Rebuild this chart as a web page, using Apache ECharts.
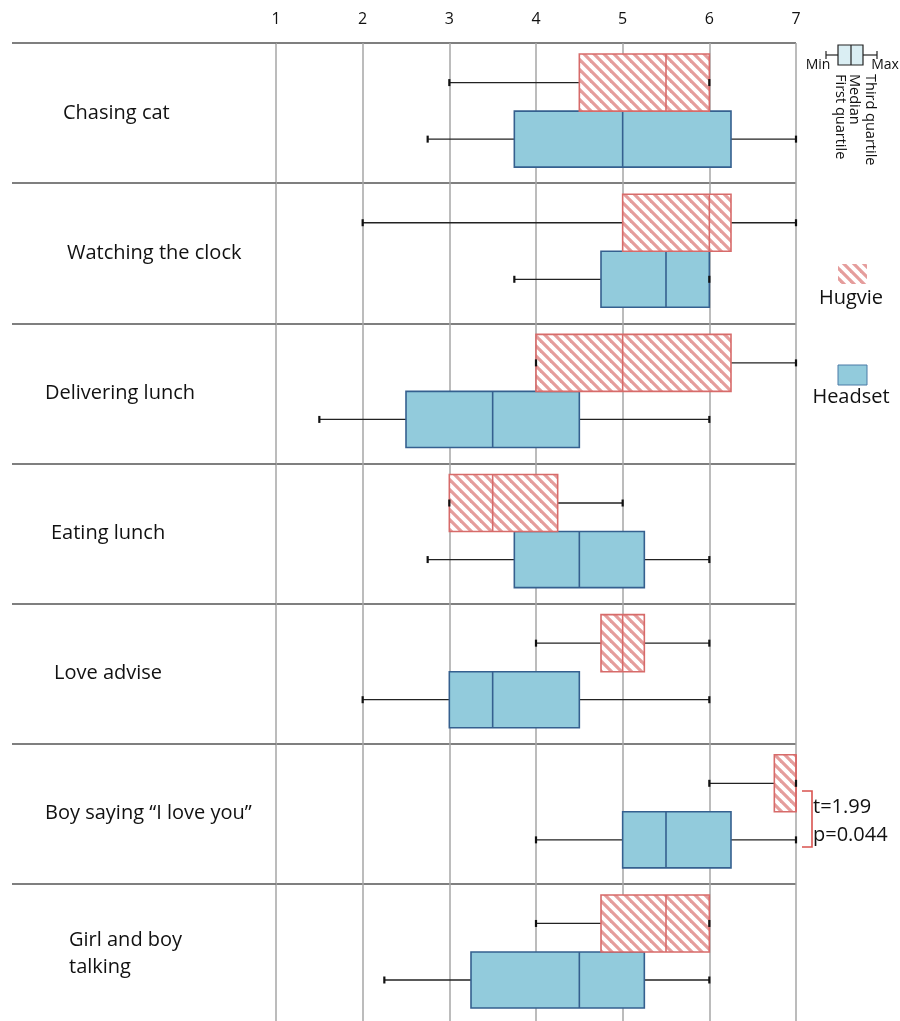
<!DOCTYPE html>
<html><head><meta charset="utf-8">
<script src="https://cdn.jsdelivr.net/npm/echarts@6/dist/echarts.min.js"></script>
<style>html,body{margin:0;padding:0;background:#fff;overflow:hidden}#c{width:900px;height:1040px}</style>
</head><body><div id="c"></div>
<script>
// ---- data ----
const categories = ['Chasing cat', 'Watching the clock', 'Delivering lunch', 'Eating lunch', 'Love advise', 'Boy saying \u201cI love you\u201d', 'Girl and boy\ntalking'];
const xTicks = [1, 2, 3, 4, 5, 6, 7];
// [min, Q1, median, Q3, max]
const hugvie = [
  [3, 4.5, 5.5, 6, 6],
  [2, 5, 6, 6.25, 7],
  [4, 4, 5, 6.25, 7],
  [3, 3, 3.5, 4.25, 5],
  [4, 4.75, 5, 5.25, 6],
  [6, 6.75, 7, 7, 7],
  [4, 4.75, 5.5, 6, 6]
];
const headset = [
  [2.75, 3.75, 5, 6.25, 7],
  [3.75, 4.75, 5.5, 6, 6],
  [1.5, 2.5, 3.5, 4.5, 6],
  [2.75, 3.75, 4.5, 5.25, 6],
  [2, 3, 3.5, 4.5, 6],
  [4, 5, 5.5, 6.25, 7],
  [2.25, 3.25, 4.5, 5.25, 6]
];
const seriesNames = ['Hugvie', 'Headset'];
const annotation = ['t=1.99', 'p=0.044'];
const keyLabels = ['Min', 'Max', 'First quartile', 'Median', 'Third quartile'];

// ---- styling ----
const FONT = 'Open Sans';
const pc = document.createElement('canvas');
pc.width = 10; pc.height = 10;
(function(){
  const g = pc.getContext('2d');
  g.fillStyle = '#fff'; g.fillRect(0,0,10,10);
  g.strokeStyle = '#e59d9c'; g.lineWidth = 3.2;
  [[-5,-5,15,15],[-5,5,5,15],[5,-5,15,5]].forEach(l=>{g.beginPath();g.moveTo(l[0],l[1]);g.lineTo(l[2],l[3]);g.stroke();});
})();
const hatch = {image: pc, repeat: 'repeat'};
const HUG_STROKE = '#d76b6a';
const HEAD_FILL = '#92cbdc';
const HEAD_STROKE = '#35608f';

function toRows(arr){ return arr.map((r,i)=>[i].concat(r)); }

function makeRender(fTop, fBot, fill, stroke){
  return function(params, api){
    const cat = api.value(0);
    const bw = api.size([0,1])[1];
    const pMin = api.coord([api.value(1), cat]);
    const pQ1 = api.coord([api.value(2), cat]);
    const pMed = api.coord([api.value(3), cat]);
    const pQ3 = api.coord([api.value(4), cat]);
    const pMax = api.coord([api.value(5), cat]);
    const yc = pMin[1];
    const top = yc + fTop*bw, bot = yc + fBot*bw;
    const wy = (top+bot)/2;
    const ws = {stroke:'#222', lineWidth:1.3};
    const cs = {stroke:'#111', lineWidth:2.2};
    return {type:'group', children:[
      {type:'line', shape:{x1:pMin[0], y1:wy, x2:pQ1[0], y2:wy}, style:ws},
      {type:'line', shape:{x1:pQ3[0], y1:wy, x2:pMax[0], y2:wy}, style:ws},
      {type:'rect', shape:{x:pQ1[0], y:top, width:pQ3[0]-pQ1[0], height:bot-top}, style:{fill:fill, stroke:stroke, lineWidth:1.6}},
      {type:'line', shape:{x1:pMed[0], y1:top, x2:pMed[0], y2:bot}, style:{stroke:stroke, lineWidth:1.6}},
      {type:'line', shape:{x1:pMin[0], y1:wy-3.5, x2:pMin[0], y2:wy+3.5}, style:cs},
      {type:'line', shape:{x1:pMax[0], y1:wy-3.5, x2:pMax[0], y2:wy+3.5}, style:cs}
    ]};
  };
}

const labelPad = [18, 22, 0, 6, 9, 0, 24];
const rich = {};
labelPad.forEach((p,i)=>{ rich['c'+i] = {padding:[0,0,0,p], fontSize:20, fontFamily:FONT, color:'#111', lineHeight:27}; });

const chart = echarts.init(document.getElementById('c'), null, {renderer:'canvas'});
const txt = (s, x, y, extra, rot) => ({type:'text', x:x, y:y, rotation:rot||0, style:Object.assign({text:s, fontFamily:FONT, fontSize:20, fill:'#111', textAlign:'center', textVerticalAlign:'middle'}, extra||{})});
const R = -Math.PI/2;

chart.setOption({
  animation:false,
  grid:{left:276, right:104, top:43, height:981},
  xAxis:{type:'value', position:'top', min:1, max:7, interval:1,
    axisLine:{show:false}, axisTick:{show:false},
    axisLabel:{fontFamily:FONT, fontSize:16, color:'#111', margin:16, formatter:v=>xTicks.indexOf(v)>=0?String(v):''},
    splitLine:{show:true, lineStyle:{color:'#a6a6a6', width:1.5}}},
  yAxis:{type:'category', data:categories, inverse:true,
    axisLine:{show:false},
    axisTick:{show:true, length:264, lineStyle:{color:'#7f7f7f', width:2}},
    splitLine:{show:true, lineStyle:{color:'#7f7f7f', width:2}},
    axisLabel:{align:'left', margin:231, formatter:(v,i)=>v.split('\n').map(s=>'{c'+i+'|'+s+'}').join('\n'), rich:rich}},
  series:[
    {name:seriesNames[0], type:'custom', data:toRows(hugvie), encode:{x:[1,2,3,4,5], y:0}, renderItem:makeRender(-0.421, -0.014, hatch, HUG_STROKE), z:3},
    {name:seriesNames[1], type:'custom', data:toRows(headset), encode:{x:[1,2,3,4,5], y:0}, renderItem:makeRender(-0.014, 0.386, HEAD_FILL, HEAD_STROKE), z:2}
  ],
  graphic:[
    // key
    {type:'line', shape:{x1:826, y1:55, x2:838, y2:55}, style:{stroke:'#222', lineWidth:1.2}},
    {type:'line', shape:{x1:863, y1:55, x2:877, y2:55}, style:{stroke:'#222', lineWidth:1.2}},
    {type:'line', shape:{x1:826, y1:51, x2:826, y2:59}, style:{stroke:'#222', lineWidth:1.2}},
    {type:'line', shape:{x1:877, y1:51, x2:877, y2:59}, style:{stroke:'#222', lineWidth:1.2}},
    {type:'rect', shape:{x:838, y:45, width:25, height:20}, style:{fill:'#daeef3', stroke:'#222', lineWidth:1.2}},
    {type:'line', shape:{x1:851, y1:45, x2:851, y2:65}, style:{stroke:'#222', lineWidth:1.2}},
    txt(keyLabels[0], 818, 65, {fontSize:14}),
    txt(keyLabels[1], 885, 65, {fontSize:14}),
    txt(keyLabels[2], 840, 74, {fontSize:14.5, textAlign:'left'}, R),
    txt(keyLabels[3], 854, 74, {fontSize:14.5, textAlign:'left'}, R),
    txt(keyLabels[4], 870, 74, {fontSize:14.5, textAlign:'left'}, R),
    // legend
    {type:'rect', shape:{x:838, y:264, width:29, height:20}, style:{fill:hatch, stroke:null}},
    txt(seriesNames[0], 851, 298),
    {type:'rect', shape:{x:838, y:365, width:29, height:20}, style:{fill:HEAD_FILL, stroke:'#4a7ba6', lineWidth:1}},
    txt(seriesNames[1], 851, 397),
    // annotation
    {type:'polyline', shape:{points:[[802,791],[812,791],[812,847],[802,847]]}, style:{stroke:'#d9534f', lineWidth:1.6, fill:null}},
    txt(annotation[0], 813, 807, {textAlign:'left'}),
    txt(annotation[1], 813, 835, {textAlign:'left'})
  ]
});
</script></body></html>
